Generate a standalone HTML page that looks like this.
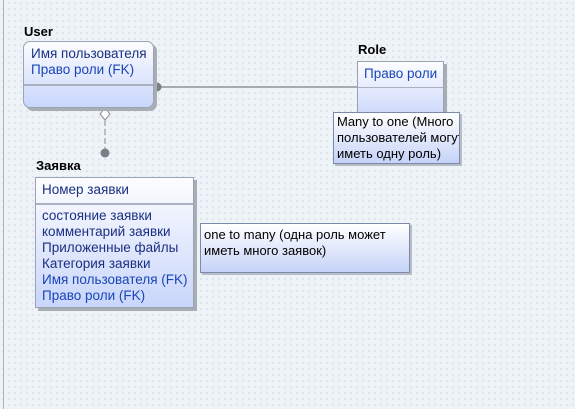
<!DOCTYPE html>
<html><head><meta charset="utf-8"><style>
body{margin:0;width:575px;height:409px;overflow:hidden;background:#eef3f8;
background-image:radial-gradient(#d8e0ea 0.8px,transparent 0.9px);background-size:6px 6px;
font-family:"Liberation Sans","Noto Sans CJK SC",sans-serif;font-size:13.5px;position:relative}
.a{position:absolute}
.lbl{font-weight:bold;color:#000;font-size:13px}
.box{background:linear-gradient(#fdfdff,#c9d6fb);border:1px solid #9aa3b3;box-shadow:3px 3px 0 #a9adb4}
.t{color:#1a2f80;line-height:16px;white-space:nowrap}
.k{color:#1845b8;line-height:16px;white-space:nowrap}
.note{background:linear-gradient(#ffffff,#c6d3f8);border:1px solid #7a8aa8;color:#000;line-height:16px;padding:1px 3px;box-sizing:border-box;box-shadow:2px 2px 0 #b8bcc4;font-size:13px;white-space:nowrap;overflow:hidden}
</style></head><body>
<div class="a" style="left:3px;top:0;width:1px;height:409px;background:#aeb4bd"></div>
<svg class="a" style="left:0;top:0" width="575" height="409">
<line x1="158" y1="87" x2="357" y2="87" stroke="#a8acb2" stroke-width="2"/>
<line x1="105" y1="120" x2="105" y2="150" stroke="#8a8e94" stroke-width="1" stroke-dasharray="6,3"/>
<circle cx="157" cy="87" r="4.5" fill="#7b7f85"/>
<circle cx="105" cy="153" r="4.5" fill="#7b7f85"/>
<polygon points="105,108 110,114 105,120 100,114" fill="#fff" stroke="#8a8e94"/>
</svg>
<div class="a lbl" style="left:24px;top:24px">User</div>
<div class="a box" style="left:23px;top:41px;width:129px;height:65px;border-radius:7px">
 <div style="padding:4px 0 0 7px;height:38px"><div class="t">Имя пользователя</div><div class="k">Право роли (FK)</div></div>
 <div style="border-top:2px solid #aab2c2"></div>
</div>
<div class="a lbl" style="left:358px;top:42px">Role</div>
<div class="a box" style="left:357px;top:61px;width:85px;height:58px">
 <div style="padding:4px 0 0 6px;height:21px"><div class="k">Право роли</div></div>
 <div style="border-top:1px solid #aab2c2"></div>
</div>
<div class="a note" style="left:333px;top:112px;width:127px;height:52px">Many to one (Много<br>пользователей могут<br>иметь одну роль)</div>
<div class="a lbl" style="left:36px;top:158px">Заявка</div>
<div class="a box" style="left:35px;top:177px;width:157px;height:129px">
 <div style="padding:4px 0 0 6px;height:21px"><div class="t">Номер заявки</div></div>
 <div style="border-top:2px solid #aab2c2"></div>
 <div style="padding:3px 0 0 6px"><div class="t">состояние заявки</div><div class="t">комментарий заявки</div><div class="t">Приложенные файлы</div><div class="t">Категория заявки</div><div class="k">Имя пользователя (FK)</div><div class="k">Право роли (FK)</div></div>
</div>
<div class="a note" style="left:200px;top:223px;width:210px;height:50px;padding-top:3px">one to many (одна роль может<br>иметь много заявок)</div>
</body></html>
